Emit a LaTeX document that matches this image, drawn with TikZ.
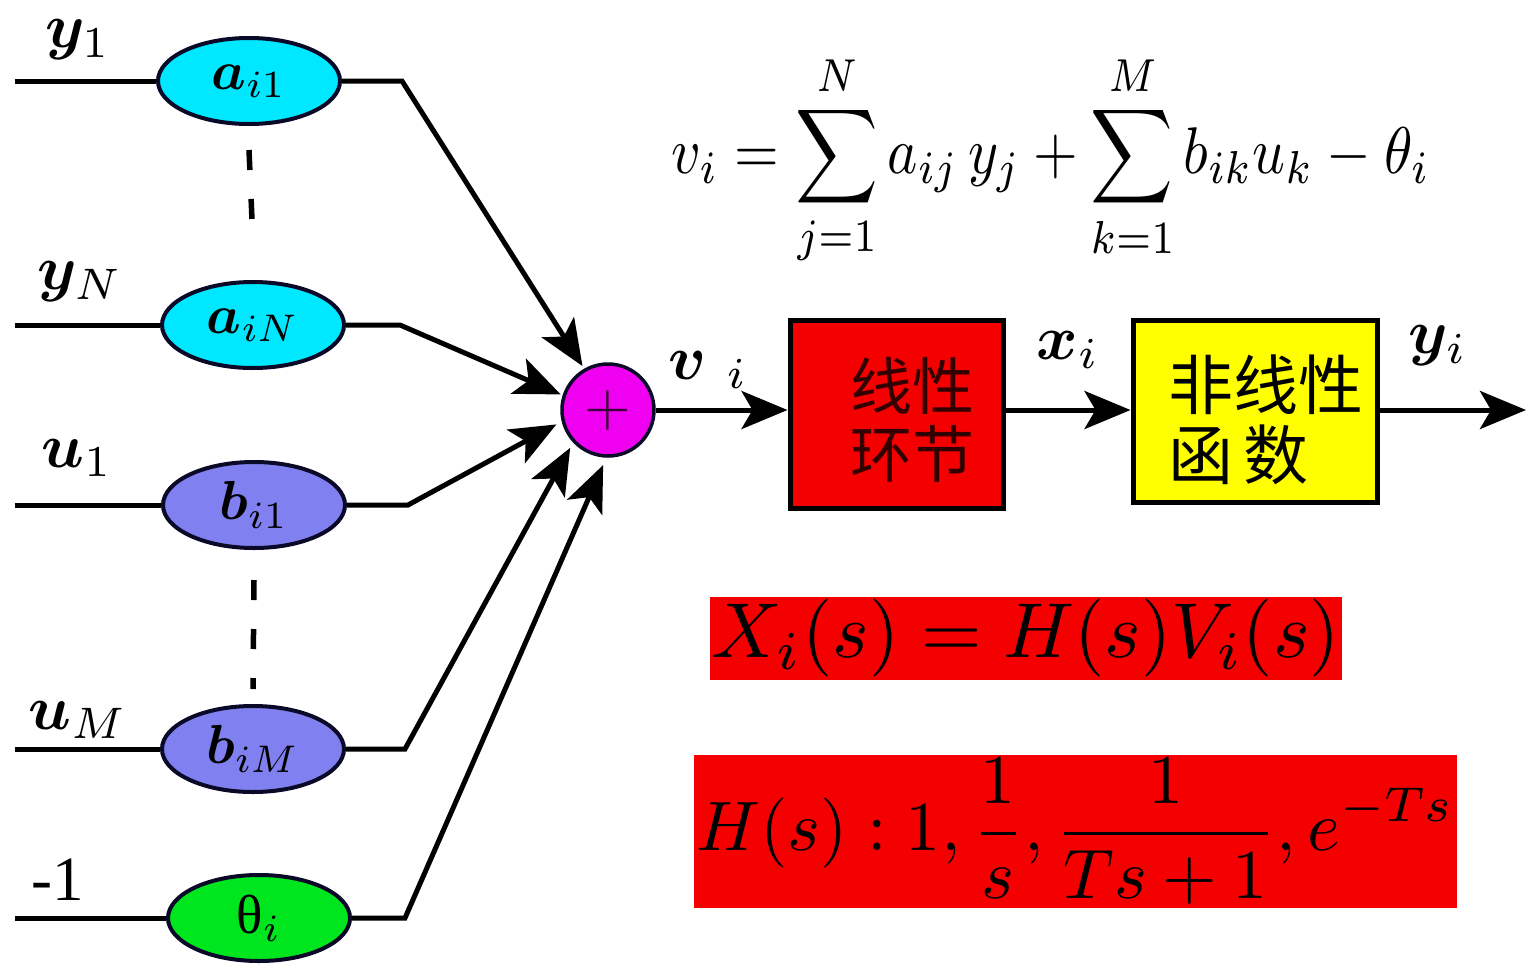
\documentclass[tikz,border=0pt]{standalone}
\usepackage{bm}
\usepackage{graphicx}
\usepackage{fontspec}
\newfontfamily\cjk{Noto Sans CJK SC}
\newfontfamily\grk{Liberation Serif}
\usetikzlibrary{shapes.geometric,arrows.meta}
\definecolor{cyanc}{RGB}{0,232,255}
\definecolor{bluec}{RGB}{128,128,240}
\definecolor{greenc}{RGB}{0,230,30}
\definecolor{magc}{RGB}{240,0,240}
\definecolor{redc}{RGB}{245,0,0}
\definecolor{yelc}{RGB}{255,255,0}
\definecolor{navy}{RGB}{10,10,40}
\definecolor{cjkred}{RGB}{50,0,0}
\newcommand{\Bx}[1]{\scalebox{5.5}{#1}}
\newcommand{\Lx}[1]{\scalebox{6.3}{#1}}
\tikzset{
  wire/.style={line width=5pt, draw=black},
  arr/.style={-{Stealth[length=46pt,width=38pt,inset=11pt]}},
  ell/.style={ellipse, draw=navy, line width=4pt, minimum width=182pt, minimum height=86pt, inner sep=0pt},
  lab/.style={inner sep=0pt},
  cjkt/.style={font=\cjk\fontsize{62}{68}\selectfont, align=left, inner sep=0pt},
  dsh/.style={line width=5.5pt, dash pattern=on 20pt off 29pt},
  boxn/.style={draw=black, line width=5pt, inner sep=0pt}
}
\begin{document}
\begin{tikzpicture}[x=1pt,y=-1pt]
\useasboundingbox[fill=white] (0,0) rectangle (1526,970);

% weight ellipses
\node[ell, fill=cyanc] (a1) at (249,81) {\Bx{$\bm{a}_{i1}$}};
\node[ell, fill=cyanc] (aN) at (253,325) {\Bx{$\bm{a}_{iN}$}};
\node[ell, fill=bluec] (b1) at (254,505) {\Bx{$\bm{b}_{i1}$}};
\node[ell, fill=bluec] (bM) at (253,749) {\Bx{$\bm{b}_{iM}$}};
\node[ell, fill=greenc] (th) at (259,918) {\Bx{{\grk θ}$_i$}};

% input labels
\node[lab] (ly1) at (78,40) {\Lx{$\bm{y}_1$}};
\node[lab] (lyN) at (80,282) {\Lx{$\bm{y}_N$}};
\node[lab] (lu1) at (77,458) {\Lx{$\bm{u}_1$}};
\node[lab] (luM) at (78,720) {\Lx{$\bm{u}_M$}};
\node[lab] (lm1) at (58,880) {\Lx{\grk -1}};

% input lines
\coordinate (i1) at (15,81);
\coordinate (i2) at (15,325);
\coordinate (i3) at (15,505);
\coordinate (i4) at (15,749);
\coordinate (i5) at (15,918);
\draw[wire] (i1) -- (a1.west);
\draw[wire] (i2) -- (aN.west);
\draw[wire] (i3) -- (b1.west);
\draw[wire] (i4) -- (bM.west);
\draw[wire] (i5) -- (th.west);

% dashed separators
\draw[dsh] ([yshift=-24pt]a1.south) -- ([yshift=37pt]aN.north);
\draw[dsh] ([yshift=-30pt]b1.south) -- ([yshift=15pt]bM.north);

% summing node
\node[circle, draw=navy, line width=3.5pt, fill=magc, minimum size=92pt, inner sep=0pt,
      text=black!75!magc] (sum) at (608,410) {\scalebox{6}{$+$}};

% connectors to sum
\coordinate (c1) at (402,81);
\coordinate (c2) at (400,325);
\coordinate (c3) at (408,505);
\coordinate (c4) at (405,749);
\coordinate (c5) at (405,918);
\draw[wire,arr,shorten >=3pt] (a1.east) -- (c1) -- (sum.120);
\draw[wire,arr,shorten >=2pt] (aN.east) -- (c2) -- (sum.162);
\draw[wire,arr,shorten >=6pt] (b1.east) -- (c3) -- (sum.194);
\draw[wire,arr,shorten >=6pt] (bM.east) -- (c4) -- (sum.223);
\draw[wire,arr,shorten >=8pt] (th.east) -- (c5) -- (sum.268);

% blocks
\node[boxn, fill=redc, minimum width=213pt, minimum height=188pt] (lin) at (896.5,414) {};
\node[boxn, fill=yelc, minimum width=244pt, minimum height=182pt] (nl) at (1255,411) {};
\node[cjkt, text=cjkred] (linT) at (912,420) {线性\\环节};
\node[cjkt, anchor=west, font=\cjk\fontsize{65}{70}\selectfont] (nlT) at (1168,420) {非线性\\函\hspace{10pt}数};

% signal arrows
\coordinate (out) at (1526,410);
\draw[wire,arr] (sum.east) -- (sum.east -| lin.west);
\draw[wire,arr] (lin.east |- sum.east) -- (nl.west |- sum.east);
\draw[wire,arr] (nl.east |- sum.east) -- (out);

% signal labels
\node[lab] (lv) at (708,370) {\Lx{$\bm{v}_{\;\,i}$}};
\node[lab] (lx) at (1068,350) {\Lx{$\bm{x}_{i}$}};
\node[lab] (ly) at (1438,346) {\Lx{$\bm{y}_{i}$}};

% formulas
\node[inner sep=0pt] (f1) at (1051,160) {\scalebox{1}[1.15]{\resizebox{758pt}{!}{$\displaystyle v_i = \sum_{j=1}^{N} a_{ij}\, y_j + \sum_{k=1}^{M} b_{ik} u_k - \theta_i$}}};
\node[fill=redc, minimum width=632pt, minimum height=83pt, inner sep=0pt] (f2) at (1026,638.5) {\resizebox{628pt}{!}{$X_i(s)=H(s)V_i(s)$}};
\node[fill=redc, minimum width=763pt, minimum height=153pt, inner sep=0pt] (f3) at (1075.5,831.5) {\resizebox{758pt}{!}{$\displaystyle H(s):1,\frac{1}{s},\frac{1}{Ts+1},e^{-Ts}$}};
\end{tikzpicture}
\end{document}
